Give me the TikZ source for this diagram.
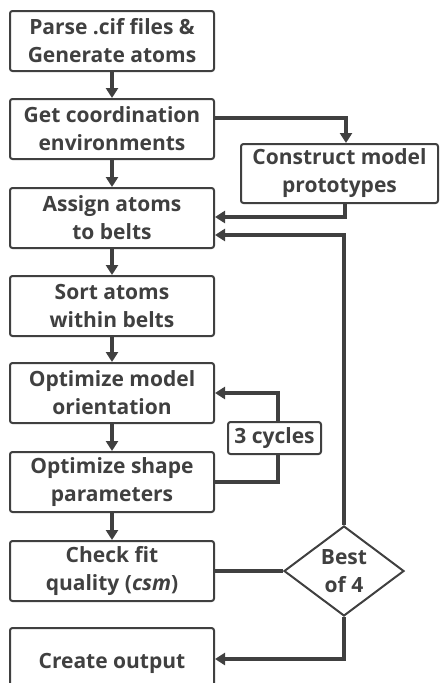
\documentclass[tikz,border=0pt]{standalone}
\usepackage{fontspec}
\setmainfont{Open Sans}
\usepackage{tikz}
\usetikzlibrary{shapes.geometric, arrows.meta, positioning, calc}

\definecolor{ink}{HTML}{404040}

\tikzset{
  stepbox/.style={draw=ink, text=ink, line width=2pt, rounded corners=2.5pt,
    minimum width=204pt, minimum height=60pt, align=center, inner sep=1pt,
    font=\fontsize{21}{28}\selectfont\bfseries},
  flow/.style={draw=ink, line width=3.3pt, -{Triangle[length=10pt,width=12pt]}},
  link/.style={draw=ink, line width=3.3pt}
}

\begin{document}
\begin{tikzpicture}[x=1pt, y=-1pt]
  \clip (0,0) rectangle (440,683);

  % Main column
  \node[stepbox] (parse)  at (112,41)  {Parse .cif files \&\\Generate atoms};
  \node[stepbox] (coord)  at (112,129) {Get coordination\\environments};
  \node[stepbox] (assign) at (112,218) {Assign atoms\\to belts};
  \node[stepbox] (sort)   at (112,306) {Sort atoms\\within belts};
  \node[stepbox] (orient) at (112,393) {Optimize model\\orientation};
  \node[stepbox] (shape)  at (112,482) {Optimize shape\\parameters};
  \node[stepbox] (check)  at (112,571) {Check fit\\quality (\textit{csm})};
  \node[stepbox, minimum height=70pt] (output) at (112,663) {Create output};

  % Side nodes
  \node[stepbox, minimum width=197pt, minimum height=59pt] (proto) at (339.5,173.5) {Construct model\\prototypes};
  \node[stepbox, minimum width=93pt, minimum height=32pt] (cycles) at (274.5,438) {3 cycles};
  \node[draw=ink, text=ink, line width=2pt, diamond, minimum width=120pt, minimum height=90pt,
    inner sep=0pt, align=center, font=\fontsize{21}{28}\selectfont\bfseries] (best) at (344,571) {Best\\of 4};

  % Straight arrows down the column
  \draw[flow] (parse)  -- (coord);
  \draw[flow] (coord)  -- (assign);
  \draw[flow] (assign) -- (sort);
  \draw[flow] (sort)   -- (orient);
  \draw[flow] (orient) -- (shape);
  \draw[flow] (shape)  -- (check);

  % Prototype branch
  \draw[flow] (coord.east |- 0,118) -| (proto.north -| 346,0);
  \draw[flow] (proto.south -| 345,0) |- (assign.east |- 0,217);

  % Cycle loop
  \draw[flow] (cycles.north -| 278,0) |- (orient.east);
  \draw[link] (shape.east) -| (cycles.south -| 278,0);

  % Best of 4
  \draw[link] (check.east) -- (best.west);
  \draw[flow] (best.north) |- (assign.east |- 0,235);
  \draw[flow] (best.south) |- (output.east |- 0,659);
\end{tikzpicture}
\end{document}
